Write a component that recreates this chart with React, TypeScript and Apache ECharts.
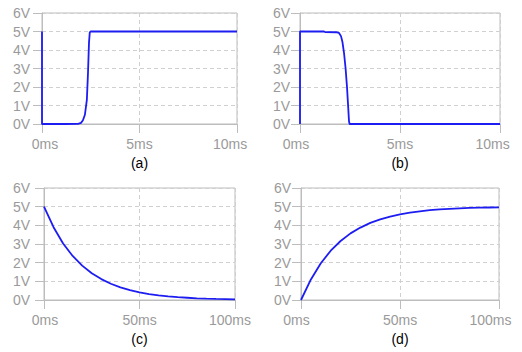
import React, { useEffect, useRef } from "react";
import * as echarts from "echarts";

// Panel (a): input step response, time in ms
const aTime = [0, 0, 1.2, 1.85, 2.0, 2.1, 2.2, 2.3, 2.36, 2.41, 2.45, 2.5, 10];
const aVolt = [5, 0, 0, 0.01, 0.06, 0.2, 0.5, 1.3, 2.8, 4.4, 4.95, 5, 5];
// Panel (b)
const bTime = [0, 0, 1.2, 1.25, 1.8, 1.95, 2.05, 2.12, 2.2, 2.28, 2.35, 2.41, 2.45, 2.48, 10];
const bVolt = [0, 5, 5, 4.97, 4.96, 4.92, 4.75, 4.45, 3.85, 3.0, 2.0, 0.9, 0.15, 0, 0];
// Panel (c): discharge, every 5 ms
const cdTime = [0, 5, 10, 15, 20, 25, 30, 35, 40, 45, 50, 55, 60, 65, 70, 75, 80, 85, 90, 95, 100];
const cVolt = [5, 3.9, 3.03, 2.36, 1.84, 1.43, 1.12, 0.87, 0.68, 0.53, 0.41, 0.32, 0.25, 0.19, 0.15, 0.12, 0.09, 0.07, 0.055, 0.045, 0.035];
// Panel (d): charge
const dVolt = [0, 1.1, 1.97, 2.64, 3.16, 3.57, 3.88, 4.13, 4.32, 4.47, 4.59, 4.68, 4.75, 4.81, 4.85, 4.88, 4.91, 4.93, 4.945, 4.955, 4.965];

const captions = ["(a)", "(b)", "(c)", "(d)"];
const topTimeMax = 10;
const topTimeStep = 5;
const bottomTimeMax = 100;
const bottomTimeStep = 50;
const voltMax = 6;
const voltStep = 1;

const FONT = "Liberation Sans, Arial, sans-serif";
const FS = 14;
const AXIS = "#bdbdbd";
const GRID = "#d0d0d0";
const LABEL = "#9a9a9a";
const LINE = "#1d1df2";

const grids = [
  { left: 42, top: 13, width: 195, height: 111 },
  { left: 300, top: 13, width: 200, height: 111 },
  { left: 44, top: 188, width: 191, height: 112 },
  { left: 301, top: 188, width: 198, height: 112 },
];
const xLabelPads = [
  { minL: 6, minR: 0, maxR: 14 },
  { minL: 0, minR: 8, maxR: 15 },
  { minL: 2, minR: 0, maxR: 10 },
  { minL: 0, minR: 9, maxR: 17 },
];
const yMargins = [12, 10, 14, 10];

function pairs(t: number[], v: number[]) {
  return t.map((x, i) => [x, v[i]]);
}

export default function App() {
  const ref = useRef<HTMLDivElement>(null);
  useEffect(() => {
    document.body.style.margin = "0";
    if (!ref.current) return;
    const chart = echarts.init(ref.current, null, { renderer: "svg" });
    const xAxes = grids.map((_, i) => {
      const top = i < 2;
      const max = top ? topTimeMax : bottomTimeMax;
      const pad = xLabelPads[i];
      return {
        type: "value",
        gridIndex: i,
        min: 0,
        max,
        interval: top ? topTimeStep : bottomTimeStep,
        axisLine: { show: true, lineStyle: { color: AXIS, width: 1 } },
        axisTick: { show: true, length: 9, lineStyle: { color: AXIS } },
        splitLine: { show: true, lineStyle: { color: GRID, type: [4, 3] } },
        axisLabel: {
          margin: 13,
          color: LABEL,
          fontSize: FS,
          fontFamily: FONT,
          formatter: (v: number) =>
            v === 0 ? `{l|${v}ms}` : v === max ? `{r|${v}ms}` : `${v}ms`,
          rich: {
            l: { padding: [0, pad.minR, 0, pad.minL], color: LABEL, fontSize: FS, fontFamily: FONT },
            r: { padding: [0, pad.maxR, 0, 0], color: LABEL, fontSize: FS, fontFamily: FONT },
          },
        },
      };
    });
    const yAxes = grids.map((_, i) => ({
      type: "value",
      gridIndex: i,
      min: 0,
      max: voltMax,
      interval: voltStep,
      axisLine: { show: true, lineStyle: { color: AXIS, width: 1 } },
      axisTick: { show: true, length: 9, lineStyle: { color: AXIS } },
      splitLine: { show: true, lineStyle: { color: GRID, type: [4, 3] } },
      axisLabel: {
        margin: yMargins[i],
        color: LABEL,
        fontSize: FS,
        fontFamily: FONT,
        formatter: (v: number) => `${v}V`,
      },
    }));
    const datasets = [
      pairs(aTime, aVolt),
      pairs(bTime, bVolt),
      pairs(cdTime, cVolt),
      pairs(cdTime, dVolt),
    ];
    const series = datasets.map((d, i) => ({
      type: "line",
      xAxisIndex: i,
      yAxisIndex: i,
      data: d,
      showSymbol: false,
      symbol: "none",
      lineStyle: { color: LINE, width: 1.8 },
      z: 3,
    }));
    const graphic = grids.map((g, i) => ({
      type: "text",
      x: g.left + g.width / 2,
      y: i < 2 ? 163 : 339,
      style: {
        text: captions[i],
        fill: "#000",
        font: `${FS}px ${FONT}`,
        align: "center",
        verticalAlign: "middle",
      },
    }));
    chart.setOption({
      animation: false,
      backgroundColor: "#fff",
      grid: grids.map((g) => ({
        ...g,
        show: true,
        borderColor: AXIS,
        borderWidth: 1,
        backgroundColor: "transparent",
        containLabel: false,
      })),
      xAxis: xAxes,
      yAxis: yAxes,
      series,
      graphic,
    });
    return () => chart.dispose();
  }, []);
  return <div ref={ref} style={{ width: 522, height: 352 }} />;
}
